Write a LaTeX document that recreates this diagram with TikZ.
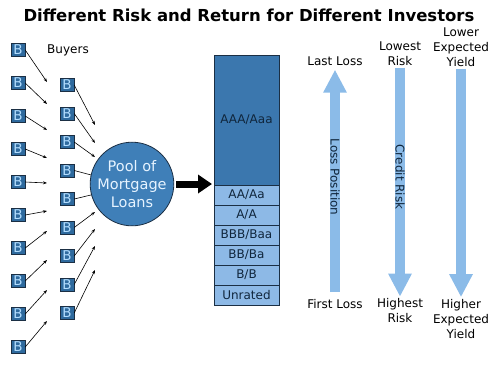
\documentclass[tikz,border=0pt]{standalone}
\usepackage{fontspec}
\setmainfont{DejaVu Sans}
\usetikzlibrary{arrows.meta, positioning}

\definecolor{buyerblue}{HTML}{2E6A9E}
\definecolor{buyertext}{HTML}{B4DEFF}
\definecolor{edgedark}{HTML}{1B2F44}
\definecolor{poolblue}{HTML}{3F7FB8}
\definecolor{pooltext}{HTML}{E6F3FF}
\definecolor{aaablue}{HTML}{3B77AE}
\definecolor{tranchelight}{HTML}{8DB9E6}
\definecolor{flowblue}{HTML}{8BBBE8}
\definecolor{textdark}{HTML}{10263C}

\begin{document}
\begin{tikzpicture}[x=1pt, y=-1pt, font=\fontsize{12}{15}\selectfont,
  buyer/.style={draw=edgedark, fill=buyerblue, text=buyertext, minimum width=14pt,
    minimum height=13pt, inner sep=0pt, font=\fontsize{13.5}{14}\selectfont},
  feed/.style={-{Stealth[length=4pt, width=3pt]}, line width=0.6pt},
  tranche/.style={draw=edgedark, line width=0.8pt, fill=tranchelight, text=textdark,
    minimum width=65pt, minimum height=20pt, inner sep=0pt, outer sep=0pt},
  flow/.style={draw=flowblue, line width=10pt, -{Triangle[length=23pt, width=22pt]}},
  tag/.style={inner sep=2pt, align=center}]
  \useasboundingbox (0,0) rectangle (500,365);

  \node[font=\fontsize{16.5}{18}\selectfont\bfseries] (title) at (249,15)
    {Different Risk and Return for Different Investors};

  % buyers, first column
  \foreach \y/\ty [count=\i] in {50/82, 83/104, 116/130, 149/158, 182/183,
      215/211, 248/231, 281/260, 314/290, 347/321} {
    \node[buyer] (l\i) at (18,\y) {B};
    \coordinate (lt\i) at (47,\ty);
    \draw[feed] (l\i.east) -- (lt\i);
  }
  % buyers, second column
  \foreach \y/\ty [count=\i] in {85/125, 113.5/143, 142/157, 170.5/176, 199/194,
      227.5/212, 256/229, 284.5/246, 313/270} {
    \node[buyer] (r\i) at (67,\y) {B};
    \coordinate (rt\i) at (95,\ty);
    \draw[feed] (r\i.east) -- (rt\i);
  }
  \node (buyers) at (68,50) {Buyers};

  \node[circle, draw=edgedark, line width=0.8pt, fill=poolblue, text=pooltext,
    minimum size=74pt, inner sep=0pt, align=center,
    font=\fontsize{14.5}{18}\selectfont] (pool) at (132,184) {Pool of\\Mortgage\\Loans};

  % tranches
  \node[tranche, fill=aaablue, minimum height=130pt] (aaa) at (246.5,120) {AAA/Aaa};
  \node[tranche, below=0pt of aaa] (aa) {AA/Aa};
  \node[tranche, below=0pt of aa] (a) {A/A};
  \node[tranche, below=0pt of a] (bbb) {BBB/Baa};
  \node[tranche, below=0pt of bbb] (bb) {BB/Ba};
  \node[tranche, below=0pt of bb] (bsingle) {B/B};
  \node[tranche, below=0pt of bsingle] (unrated) {Unrated};

  \draw[line width=7pt, -{Triangle[length=14pt, width=18pt]}, shorten <=2pt, shorten >=2pt]
    (pool.east) -- (pool.east -| aaa.west);

  % loss, risk and yield scales
  \node[tag] (lastloss) at (335,61) {Last Loss};
  \node[tag] (firstloss) at (335,304) {First Loss};
  \node[tag] (lowrisk) at (400,53.5) {Lowest\\Risk};
  \node[tag] (highrisk) at (400,311) {Highest\\Risk};
  \node[tag] (lowyield) at (461,47) {Lower\\Expected\\Yield};
  \node[tag] (highyield) at (461,319) {Higher\\Expected\\Yield};

  \draw[flow, shorten <=5pt, shorten >=2pt] (firstloss.north) -- (lastloss.south);
  \draw[flow] (lowrisk.south) -- (highrisk.north);
  \draw[flow] (lowyield.south) -- (highyield.north);

  \node[rotate=-90, text=textdark] (losspos) at (335,177) {Loss Position};
  \node[rotate=-90, text=textdark] (creditrisk) at (400,177) {Credit Risk};
\end{tikzpicture}
\end{document}
